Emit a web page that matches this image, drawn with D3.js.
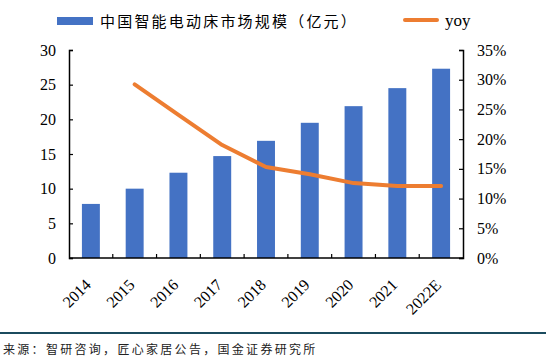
<!DOCTYPE html>
<html>
  <head>
    <meta charset="UTF-8">
    <title>中国智能电动床市场规模</title>
    <style>
      body { margin: 0; background: #fff; }
      svg text { font-family: "Liberation Serif", "Times New Roman", serif; }
    </style>
  </head>
  <body>
    <svg class="chart"></svg>
    <script src="https://d3js.org/d3.v7.min.js"></script>
    <script>

// data
var years = ["2014", "2015", "2016", "2017", "2018", "2019", "2020", "2021", "2022E"];
var market = [7.8, 10.0, 12.3, 14.7, 16.9, 19.5, 21.9, 24.5, 27.3];
var yoy = [null, 0.292, 0.241, 0.19, 0.153, 0.141, 0.126, 0.121, 0.121];
var leftTicks = [0, 5, 10, 15, 20, 25, 30];
var rightTicks = [0, 0.05, 0.1, 0.15, 0.2, 0.25, 0.3, 0.35];

var width = 546, height = 362;
var mLeft = 69, mRight = 463, mTop = 50, mBottom = 258;

var svg = d3.select("svg")
  .attr("width", width)
  .attr("height", height);

var x = d3.scaleBand().domain(years).range([mLeft, mRight]).paddingInner(0.59).paddingOuter(0.295);
var xb = d3.scaleBand().domain(years).range([mLeft, mRight]);
var y = d3.scaleLinear().domain([0, 30]).range([mBottom, mTop]);
var y2 = d3.scaleLinear().domain([0, 0.35]).range([mBottom, mTop]);

// bars
svg.append("g").selectAll("rect")
  .data(market)
  .enter().append("rect")
    .attr("x", function(d, i) { return x(years[i]); })
    .attr("width", x.bandwidth())
    .attr("y", function(d) { return y(d); })
    .attr("height", function(d) { return mBottom - y(d); })
    .attr("fill", "#4472C4");

// yoy line
var line = d3.line()
  .defined(function(d) { return d != null; })
  .x(function(d, i) { return xb(years[i]) + xb.bandwidth() / 2; })
  .y(function(d) { return y2(d); });

svg.append("path")
  .datum(yoy)
  .attr("d", line)
  .attr("fill", "none")
  .attr("stroke", "#ED7D31")
  .attr("stroke-width", 4)
  .attr("stroke-linejoin", "round")
  .attr("stroke-linecap", "round");

// axes
var yAxis = svg.append("g")
  .attr("transform", "translate(" + mLeft + ",0)")
  .call(d3.axisLeft(y).tickValues(leftTicks).tickSize(-4).tickPadding(13));

var yAxis2 = svg.append("g")
  .attr("transform", "translate(" + mRight + ",0)")
  .call(d3.axisRight(y2).tickValues(rightTicks).tickSize(-4).tickPadding(14)
    .tickFormat(function(d) { return Math.round(d * 100) + "%"; }));

var xTicks = d3.range(1, years.length).map(function(i) { return xb(years[i]); });
var xAxis = svg.append("g");
xAxis.append("line")
  .attr("x1", mLeft).attr("x2", mRight)
  .attr("y1", mBottom).attr("y2", mBottom)
  .attr("stroke", "#000").attr("stroke-width", 1.5);
xAxis.selectAll("line.tick")
  .data(xTicks)
  .enter().append("line")
    .attr("class", "tick")
    .attr("x1", function(d) { return d; }).attr("x2", function(d) { return d; })
    .attr("y1", mBottom).attr("y2", mBottom - 4)
    .attr("stroke", "#000").attr("stroke-width", 1.2);

xAxis.selectAll("text")
  .data(years)
  .enter().append("text")
    .attr("transform", function(d) {
      return "translate(" + (xb(d) + xb.bandwidth() / 2 - 3) + "," + (mBottom + 24) + ") rotate(-45)";
    })
    .attr("text-anchor", "end")
    .attr("dy", "0.35em")
    .style("font-size", "16px")
    .attr("fill", "#000")
    .text(function(d) { return d; });

[yAxis, yAxis2].forEach(function(g) {
  g.select(".domain").attr("stroke", "#000").attr("stroke-width", 1.5);
  g.selectAll(".tick line").attr("stroke", "#000").attr("stroke-width", 1.2);
  g.selectAll(".tick text")
    .style("font-size", "16px")
    .style("font-family", "Liberation Serif, serif")
    .attr("fill", "#000");
});

// legend
svg.append("rect")
  .attr("x", 57).attr("y", 17).attr("width", 36).attr("height", 8)
  .attr("fill", "#4472C4");
svg.append("text")
  .attr("x", 100).attr("y", 27)
  .style("font-family", "Noto Sans CJK SC, sans-serif")
  .style("font-size", "15px")
  .style("letter-spacing", "2.2px")
  .attr("fill", "#000")
  .text("中国智能电动床市场规模（亿元）");
svg.append("line")
  .attr("x1", 405).attr("x2", 437).attr("y1", 20).attr("y2", 20)
  .attr("stroke", "#ED7D31").attr("stroke-width", 4)
  .attr("stroke-linecap", "round");
svg.append("text")
  .attr("x", 445).attr("y", 26)
  .style("font-size", "17px")
  .attr("fill", "#000")
  .text("yoy");

// source
svg.append("line")
  .attr("x1", 0).attr("x2", width).attr("y1", 333).attr("y2", 333)
  .attr("stroke", "#1b4b5e").attr("stroke-width", 2);
svg.append("text")
  .attr("x", 3).attr("y", 354)
  .style("font-family", "Noto Sans CJK SC, sans-serif")
  .style("font-size", "12px")
  .style("letter-spacing", "2.3px")
  .attr("fill", "#222")
  .text("来源：智研咨询，匠心家居公告，国金证券研究所");

    </script>
  </body>
</html>
